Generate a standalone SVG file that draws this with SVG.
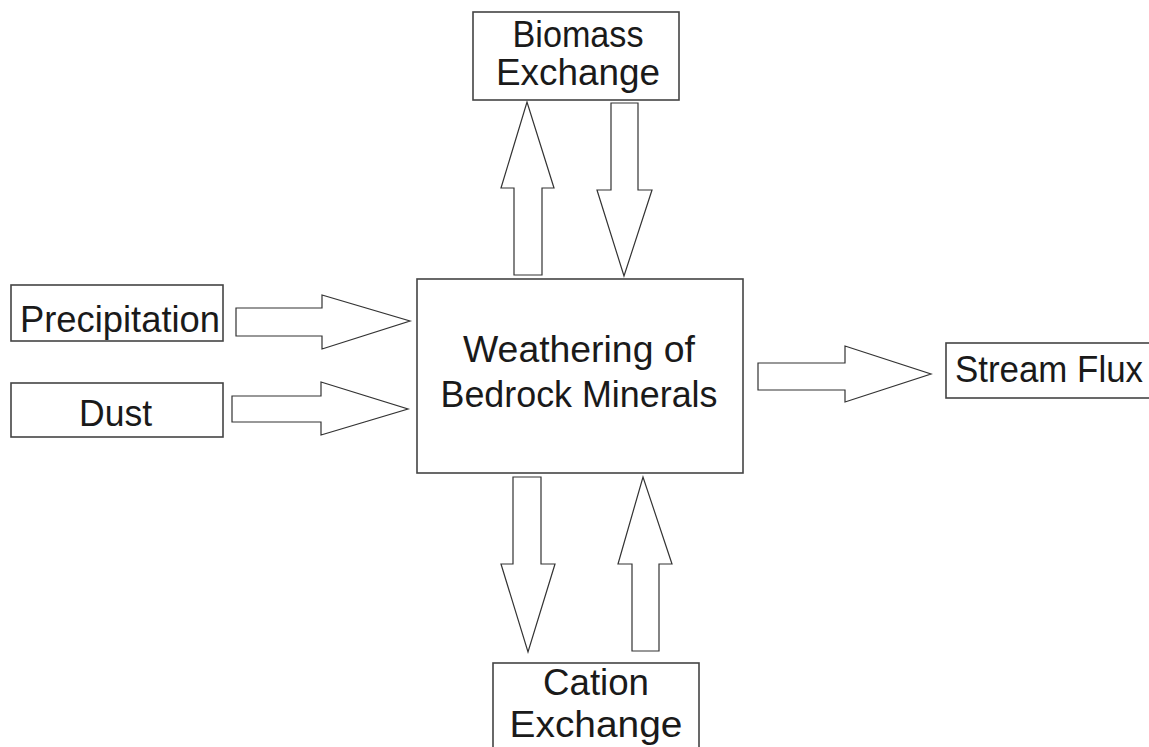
<svg xmlns="http://www.w3.org/2000/svg" width="1149" height="747" viewBox="0 0 1149 747">
<style>
.box{fill:#fff;stroke:#444;stroke-width:1.6}
.arr{fill:#fff;stroke:#333;stroke-width:1.2;stroke-linejoin:miter}
.t{font-family:"Liberation Sans",Arial,sans-serif;font-size:36px;fill:#1a1a1a;text-anchor:middle}
</style>
<rect width="1149" height="747" fill="#fff"/>
<g id="connectors">
<polygon class="arr" points="514,275 542,275 542,188 554,188 527,102 501,188 514,188"/>
<polygon class="arr" points="611,103 638,103 638,190 652,190 624,276 597,190 611,190"/>
<polygon class="arr" points="236,308 322,308 322,295 410,321 322,349 322,336 236,336"/>
<polygon class="arr" points="232,396 321,396 321,382 408,409 321,435 321,422 232,422"/>
<polygon class="arr" points="758,363 845,363 845,346 931,374 845,402 845,390 758,390"/>
<polygon class="arr" points="513,477 541,477 541,564 555,564 528,652 501,564 513,564"/>
<polygon class="arr" points="632,651 659,651 659,564 672,564 643,477 618,564 632,564"/>
</g>
<g id="biomass">
<rect class="box" x="473" y="12" width="206" height="88"/>
<text class="t" x="578" y="47" textLength="131" lengthAdjust="spacingAndGlyphs">Biomass</text>
<text class="t" x="578" y="85" textLength="164" lengthAdjust="spacingAndGlyphs">Exchange</text>
</g>
<g id="weathering">
<rect class="box" x="417" y="279" width="326" height="194"/>
<text class="t" x="579" y="362" textLength="232" lengthAdjust="spacingAndGlyphs">Weathering of</text>
<text class="t" x="579" y="407" textLength="277" lengthAdjust="spacingAndGlyphs">Bedrock Minerals</text>
</g>
<g id="precipitation">
<rect class="box" x="11" y="285" width="212" height="56"/>
<text class="t" x="120" y="332" textLength="200" lengthAdjust="spacingAndGlyphs">Precipitation</text>
</g>
<g id="dust">
<rect class="box" x="11" y="383" width="212" height="54"/>
<text class="t" x="115.5" y="426" textLength="73" lengthAdjust="spacingAndGlyphs">Dust</text>
</g>
<g id="stream">
<rect class="box" x="946" y="343" width="210" height="55"/>
<text class="t" x="1049" y="382" textLength="188" lengthAdjust="spacingAndGlyphs">Stream Flux</text>
</g>
<g id="cation">
<rect class="box" x="493" y="663" width="206" height="100"/>
<text class="t" x="596" y="695" textLength="106" lengthAdjust="spacingAndGlyphs">Cation</text>
<text class="t" x="596" y="737" textLength="173" lengthAdjust="spacingAndGlyphs">Exchange</text>
</g>
</svg>
